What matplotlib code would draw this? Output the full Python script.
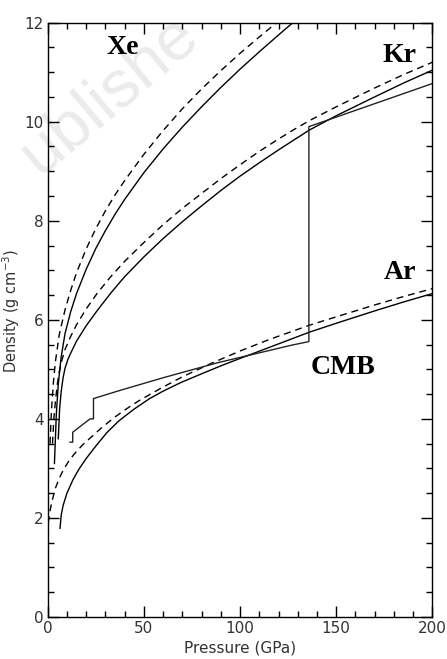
import numpy as np
import matplotlib
matplotlib.use('Agg')
import matplotlib.pyplot as plt
from matplotlib.ticker import MultipleLocator

#density curves (pressure GPa, density g/cc)
xe_sol_p = [3.5, 4.5, 5.5, 7, 9, 12, 15, 20, 25, 30, 35, 40, 50, 60, 70, 80, 90, 100, 110, 120, 127.5]
xe_sol_d = [3.1, 4.1, 4.7, 5.25, 5.72, 6.17, 6.53, 7.02, 7.44, 7.8, 8.13, 8.43, 8.97, 9.45,
            9.89, 10.3, 10.69, 11.06, 11.41, 11.75, 12.0]
xe_das_p = [1.2, 2, 3, 4, 6, 9, 12, 15, 20, 25, 30, 35, 40, 50, 60, 70, 80, 90, 100, 110, 120]
xe_das_d = [3.5, 4.2, 4.75, 5.15, 5.7, 6.2, 6.6, 6.95, 7.43, 7.84, 8.2, 8.52, 8.81, 9.34,
            9.82, 10.26, 10.66, 11.03, 11.38, 11.71, 12.03]

kr_sol_p = [5.5, 6.2, 7, 8, 9, 10.5, 12, 15, 20, 26, 33, 40, 50, 60, 70, 80, 90, 100,
            110, 120, 128, 136, 150, 170, 185, 200]
kr_sol_d = [3.6, 4.2, 4.55, 4.83, 5.02, 5.2, 5.33, 5.57, 5.88, 6.2, 6.55, 6.87, 7.27, 7.64,
            7.98, 8.3, 8.61, 8.9, 9.17, 9.43, 9.63, 9.83, 10.12, 10.5, 10.78, 11.04]
kr_das_p = [2.5, 3.2, 4, 5, 6, 7.5, 9, 12, 15, 20, 26, 33, 40, 50, 60, 70, 80, 90, 100,
            110, 120, 128, 136, 150, 170, 185, 200]
kr_das_d = [3.5, 4.0, 4.35, 4.7, 4.95, 5.2, 5.4, 5.67, 5.9, 6.22, 6.55, 6.88, 7.18, 7.56,
            7.92, 8.25, 8.55, 8.85, 9.13, 9.4, 9.65, 9.84, 10.02, 10.3, 10.68, 10.95, 11.2]

ar_sol_p = [6.4, 7, 8, 10, 13, 16, 20, 25, 30.7, 37, 45, 53, 60, 69, 80, 90, 100, 115,
            136, 150, 170, 185, 200]
ar_sol_d = [1.79, 2.05, 2.25, 2.5, 2.76, 2.97, 3.2, 3.45, 3.72, 3.96, 4.2, 4.41, 4.56,
            4.73, 4.91, 5.07, 5.22, 5.44, 5.75, 5.93, 6.18, 6.36, 6.53]
ar_das_p = [0.3, 1, 2, 4, 6, 8, 11, 14, 18, 22, 28, 35, 42, 48, 58, 70, 85, 100, 115,
            136, 150, 170, 185, 200]
ar_das_d = [1.9, 2.1, 2.3, 2.6, 2.8, 2.96, 3.15, 3.3, 3.47, 3.61, 3.82, 4.04, 4.23, 4.38,
            4.6, 4.85, 5.12, 5.37, 5.6, 5.89, 6.06, 6.3, 6.47, 6.63]

#mantle + core profile
cmb_p = [11.6, 13.0, 13.0, 22.0, 23.8, 23.8, 38, 60, 88, 127, 135.8, 135.8, 200]
cmb_d = [3.53, 3.53, 3.73, 4.0, 4.0, 4.41, 4.58, 4.83, 5.13, 5.49, 5.56, 9.90, 10.77]

labels = ['Xe', 'Kr', 'Ar', 'CMB']
lab_p = [39, 183, 183, 153.5]
lab_d = [11.5, 11.33, 6.96, 5.04]

fig = plt.figure(figsize=(4.47, 6.59), dpi=100)
ax = fig.add_axes([0.1067, 0.0637, 0.8606, 0.902])
ax.patch.set_visible(False)

#faint publisher watermark
fig.text(0.245, 0.857, 'ublishe', fontsize=48, color='#ebebeb', rotation=40,
         ha='center', va='center', family='Liberation Sans', zorder=-5)

dash = (0, (5, 3.5))
ax.plot(xe_sol_p, xe_sol_d, color='black', lw=1.0)
ax.plot(xe_das_p, xe_das_d, color='black', lw=1.0, ls=dash)
ax.plot(kr_sol_p, kr_sol_d, color='black', lw=1.0)
ax.plot(kr_das_p, kr_das_d, color='black', lw=1.0, ls=dash)
ax.plot(ar_sol_p, ar_sol_d, color='black', lw=1.0)
ax.plot(ar_das_p, ar_das_d, color='black', lw=1.0, ls=dash)
ax.plot(cmb_p, cmb_d, color='#222222', lw=1.0)

for t, p, d in zip(labels, lab_p, lab_d):
    ax.text(p, d, t, fontsize=20, fontweight='bold', family='Liberation Serif',
            ha='center', va='center')

ax.set_xlim(0, 200)
ax.set_ylim(0, 12)
ax.xaxis.set_major_locator(MultipleLocator(50))
ax.xaxis.set_minor_locator(MultipleLocator(10))
ax.yaxis.set_major_locator(MultipleLocator(2))
ax.yaxis.set_minor_locator(MultipleLocator(0.5))
ax.tick_params(which='both', direction='in', top=True, right=True, width=1.0,
               labelsize=11, labelcolor='#333333', pad=3)
ax.tick_params(which='major', length=8)
ax.tick_params(which='minor', length=4.5)
for s in ax.spines.values():
    s.set_linewidth(1.0)

ax.set_xlabel('Pressure (GPa)', fontsize=11, color='#333333', labelpad=3)
ax.set_ylabel('Density (g cm$^{-3}$)', fontsize=10.5, color='#333333')
ax.yaxis.set_label_coords(-0.068, 0.515)

plt.savefig('out.png', dpi=100)
